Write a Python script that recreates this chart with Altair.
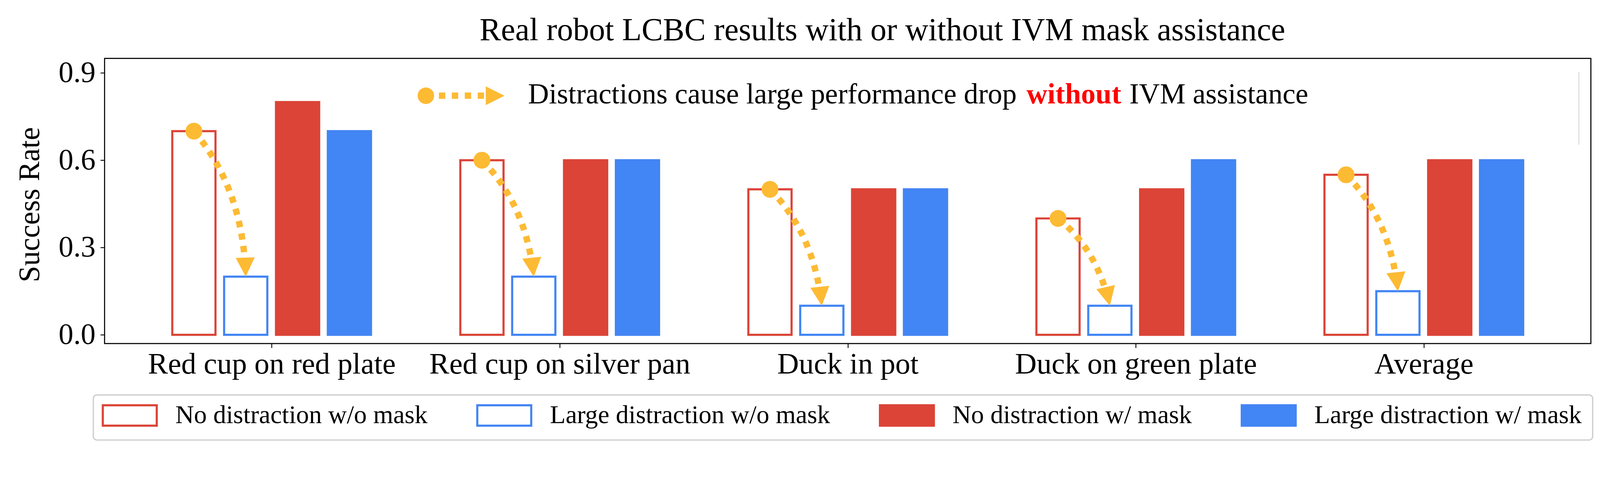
import json
import math
import altair as alt
import pandas as pd

# ---------------- data ----------------
categories = ["Red cup on red plate", "Red cup on silver pan", "Duck in pot",
              "Duck on green plate", "Average"]
series_names = ["No distraction w/o mask", "Large distraction w/o mask",
                "No distraction w/ mask", "Large distraction w/ mask"]
no_distraction_wo_mask = [0.7, 0.6, 0.5, 0.4, 0.55]
large_distraction_wo_mask = [0.2, 0.2, 0.1, 0.1, 0.15]
no_distraction_w_mask = [0.8, 0.6, 0.5, 0.5, 0.6]
large_distraction_w_mask = [0.7, 0.6, 0.5, 0.6, 0.6]
y_tick_values = [0.0, 0.3, 0.6, 0.9]

title_text = "Real robot LCBC results with or without IVM mask assistance"
note_text = "Distractions cause large performance drop"
note_highlight = "without"
note_tail = "IVM assistance"

# ---------------- style / layout ----------------
RED = "#DB4437"
BLUE = "#4285F4"
ORANGE = "#FDBA33"
FONT = "Liberation Serif"

W, H = 4219, 810
X_DOM = [-0.58, 4.58]
Y_DOM = [-0.03, 0.95]
SX = W / (X_DOM[1] - X_DOM[0])
SY = H / (Y_DOM[1] - Y_DOM[0])
OFFSETS = [-0.27, -0.09, 0.09, 0.27]
BAR_W = 0.15
HEAD = 54
TRI = "M-1,-1L1,0L-1,1Z"
RECT = "M-2.64,-1H2.64V1H-2.64Z"

all_series = [no_distraction_wo_mask, large_distraction_wo_mask,
              no_distraction_w_mask, large_distraction_w_mask]

rows = []
for s_i, (name, vals) in enumerate(zip(series_names, all_series)):
    for c_i, v in enumerate(vals):
        cx = c_i + OFFSETS[s_i]
        rows.append({"series": name, "category": categories[c_i], "value": v,
                     "x0": cx - BAR_W / 2, "x1": cx + BAR_W / 2})
bars_df = pd.DataFrame(rows)


def to_px(x, y):
    return ((x - X_DOM[0]) * SX, (Y_DOM[1] - y) * SY)


def to_data(px, py):
    return (px / SX + X_DOM[0], Y_DOM[1] - py / SY)


curve_rows, head_rows, start_rows = [], [], []
for c_i in range(len(categories)):
    xs, ys = c_i + OFFSETS[0], no_distraction_wo_mask[c_i]
    xe, ye = c_i + OFFSETS[1], large_distraction_wo_mask[c_i]
    start_rows.append({"x": xs, "y": ys, "category": categories[c_i]})
    p0 = to_px(xs, ys)
    p2 = to_px(xe, ye)
    mx, my = (p0[0] + p2[0]) / 2, (p0[1] + p2[1]) / 2
    dx, dy = p2[0] - p0[0], p2[1] - p0[1]
    cpt = (mx + 0.175 * dy - 0.04 * dx, my - 0.175 * dx - 0.04 * dy)
    n = 240
    pts = []
    for k in range(n + 1):
        t = k / n
        bx = (1 - t) ** 2 * p0[0] + 2 * t * (1 - t) * cpt[0] + t * t * p2[0]
        by = (1 - t) ** 2 * p0[1] + 2 * t * (1 - t) * cpt[1] + t * t * p2[1]
        pts.append((bx, by))
    dist = [0.0] * (n + 1)
    for k in range(n - 1, -1, -1):
        dist[k] = dist[k + 1] + math.hypot(pts[k + 1][0] - pts[k][0], pts[k + 1][1] - pts[k][1])
    ux, uy = p2[0] - cpt[0], p2[1] - cpt[1]
    ln = math.hypot(ux, uy)
    ux, uy = ux / ln, uy / ln
    keep = [p for p, d in zip(pts, dist) if d >= HEAD]
    keep.append((p2[0] - ux * HEAD, p2[1] - uy * HEAD))
    for j, (px, py) in enumerate(keep):
        ddx, ddy = to_data(px, py)
        curve_rows.append({"group": categories[c_i], "i": j, "x": ddx, "y": ddy})
    hx, hy = to_data(p2[0] - ux * HEAD / 2, p2[1] - uy * HEAD / 2)
    head_rows.append({"x": hx, "y": hy,
                      "angle": math.degrees(math.atan2(uy, ux)) % 360,
                      "category": categories[c_i]})

curve_df = pd.DataFrame(curve_rows)
head_df = pd.DataFrame(head_rows)
start_df = pd.DataFrame(start_rows)

# ---------------- scales / axes ----------------
xscale = alt.Scale(domain=X_DOM, nice=False, zero=False)
yscale = alt.Scale(domain=Y_DOM, nice=False, zero=False)

label_expr = json.dumps(categories) + "[datum.value]"
xaxis = alt.Axis(values=list(range(len(categories))), labelExpr=label_expr, title=None,
                 tickSize=12, tickWidth=2.5, tickColor="black", labelFontSize=85,
                 labelFont=FONT, labelColor="black", labelPadding=6, domain=False,
                 grid=False, labelFlush=False, labelOverlap=False, labelBound=False,
                 labelLimit=3000)
yaxis = alt.Axis(values=y_tick_values, format=".1f", title="Success Rate",
                 titleFontSize=84, titleFont=FONT, titleFontWeight="normal",
                 titleColor="black", titleX=-186, titleY=415, titleAngle=270,
                 titleBaseline="alphabetic", titleAlign="center", titleLimit=3000,
                 tickSize=12, tickWidth=2.5, tickColor="black", labelFontSize=84,
                 labelFont=FONT, labelColor="black", labelPadding=14, domain=False,
                 grid=False)

legend = alt.Legend(orient="none", legendX=35, legendY=977.5, direction="horizontal",
                    columns=4, title=None, symbolType=RECT, symbolSize=3364,
                    symbolStrokeWidth=6, symbolOpacity=1, labelFontSize=73,
                    labelFont=FONT, labelColor="black", labelOffset=93,
                    columnPadding=128, padding=0, labelLimit=3000)

# ---------------- layers ----------------
legend_box = alt.Chart(pd.DataFrame({"k": [0]})).mark_rect(
    fill="white", stroke="#cccccc", strokeWidth=3.5, cornerRadius=10
).encode(x=alt.value(-32), x2=alt.value(4224), y=alt.value(956), y2=alt.value(1084))

bars = alt.Chart(bars_df).mark_bar(strokeWidth=6, opacity=1).encode(
    x=alt.X("x0:Q", scale=xscale, axis=xaxis),
    x2="x1:Q",
    y=alt.Y("value:Q", scale=yscale, axis=yaxis),
    y2=alt.datum(0),
    fill=alt.Fill("series:N", scale=alt.Scale(domain=series_names,
                                              range=["white", "white", RED, BLUE]),
                  legend=legend),
    stroke=alt.Stroke("series:N", scale=alt.Scale(domain=series_names,
                                                  range=[RED, BLUE, RED, BLUE]),
                      legend=legend),
)

frame_edge = alt.Chart(pd.DataFrame({"k": [0]})).mark_rule(
    color="#d6d6d6", strokeWidth=2.5
).encode(x=alt.value(4185), y=alt.value(38), y2=alt.value(245))

curves = alt.Chart(curve_df).mark_line(
    color=ORANGE, strokeWidth=18, strokeDash=[18, 18], strokeCap="butt"
).encode(x="x:Q", y="y:Q", detail="group:N", order="i:Q")

starts = alt.Chart(start_df).mark_point(
    shape="circle", filled=True, size=2290, color=ORANGE, opacity=1
).encode(x="x:Q", y="y:Q")

heads = alt.Chart(head_df).mark_point(
    shape=TRI, filled=True, size=2916, color=ORANGE, opacity=1
).encode(x="x:Q", y="y:Q", angle=alt.Angle("angle:Q", scale=None))

# annotation key
key_dot = alt.Chart(pd.DataFrame({"k": [0]})).mark_point(
    shape="circle", filled=True, size=2210, color=ORANGE, opacity=1
).encode(x=alt.value(912), y=alt.value(106))
key_line = alt.Chart(pd.DataFrame({"k": [0]})).mark_rule(
    color=ORANGE, strokeWidth=18, strokeDash=[18, 18.7], strokeCap="butt"
).encode(x=alt.value(949), x2=alt.value(1077), y=alt.value(106))
key_head = alt.Chart(pd.DataFrame({"k": [0]})).mark_point(
    shape=TRI, filled=True, size=2809, color=ORANGE, opacity=1
).encode(x=alt.value(1108.5), y=alt.value(106))

note1 = alt.Chart(pd.DataFrame({"t": [note_text]})).mark_text(
    align="left", baseline="alphabetic", fontSize=82, font=FONT, color="black"
).encode(x=alt.value(1202), y=alt.value(128), text="t:N")
note2 = alt.Chart(pd.DataFrame({"t": [note_highlight]})).mark_text(
    align="left", baseline="alphabetic", fontSize=82, font=FONT, color="#FF0000",
    fontWeight="bold"
).encode(x=alt.value(2617), y=alt.value(128), text="t:N")
note3 = alt.Chart(pd.DataFrame({"t": [note_tail]})).mark_text(
    align="left", baseline="alphabetic", fontSize=82, font=FONT, color="black"
).encode(x=alt.value(2909), y=alt.value(128), text="t:N")

title = alt.Chart(pd.DataFrame({"t": [title_text]})).mark_text(
    align="center", baseline="alphabetic", fontSize=91, font=FONT, color="black"
).encode(x=alt.value(2208), y=alt.value(-52), text="t:N")

chart = alt.layer(
    legend_box, bars, frame_edge, curves, starts, heads,
    key_dot, key_line, key_head, note1, note2, note3, title
).properties(
    width=W, height=H,
    autosize=alt.AutoSizeParams(type="none"),
    padding={"left": 288, "top": 93, "right": 17, "bottom": 274},
).configure_view(stroke="black", strokeWidth=3)

chart.save("out.html", embed_options={"renderer": "svg", "actions": False})
